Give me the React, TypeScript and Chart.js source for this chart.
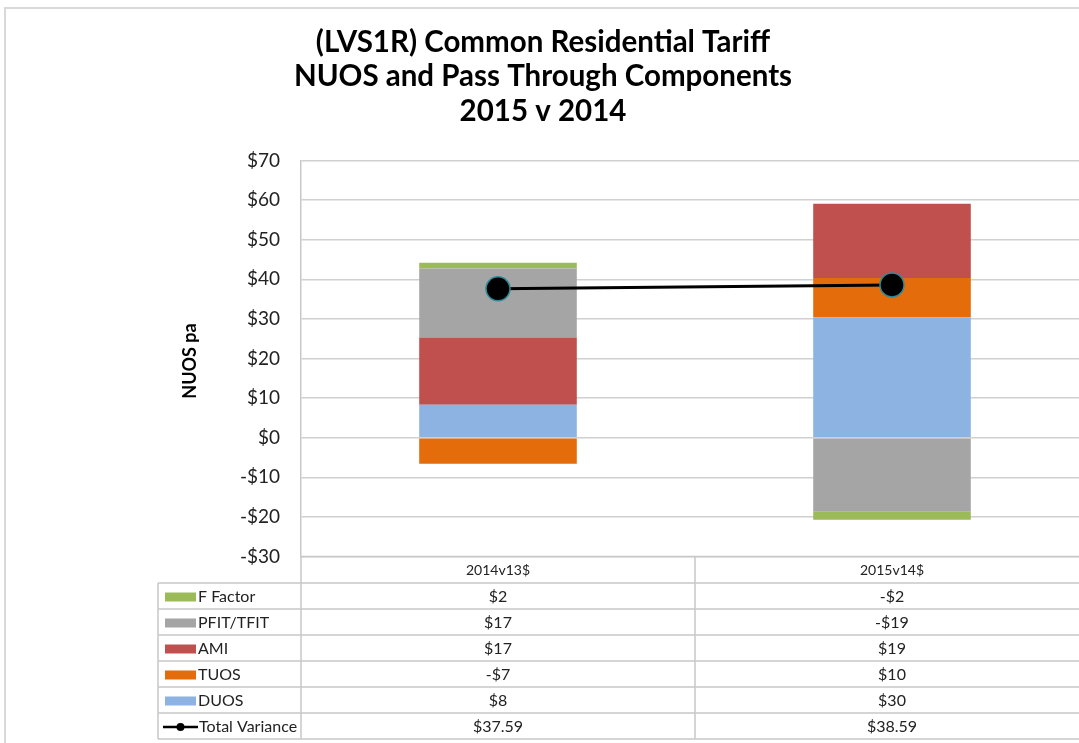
import React, { useEffect, useRef } from 'react';
import { Chart, registerables } from 'chart.js';

Chart.register(...registerables);

const categories = ['2014v13$', '2015v14$'];
const duos = [8.3, 30.4];
const tuos = [-6.6, 9.9];
const ami = [17.0, 18.8];
const pfit = [17.4, -18.7];
const fFactor = [1.5, -2.0];
const totalVariance = [37.59, 38.59];

const titleLines = ['(LVS1R) Common Residential Tariff', 'NUOS and Pass Through Components', '2015 v 2014'];
const yAxisTitle = 'NUOS pa';
const yMin = -30;
const yMax = 70;
const yStep = 10;

const FONT = 'Lato, "Open Sans", sans-serif';

const fmtCell = (v: number) => (Math.round(v) < 0 ? '-$' : '$') + Math.abs(Math.round(v));
const fmtTotal = (v: number) => '$' + v.toFixed(2);

const overlayPlugin = {
  id: 'overlay',
  afterDraw(chart: any) {
    const ctx = chart.ctx;
    const x = chart.scales.x;
    const area = chart.chartArea;
    ctx.save();
    // frame
    ctx.strokeStyle = '#d9d9d9';
    ctx.lineWidth = 2;
    ctx.strokeRect(5, 8, 1200, 800);

    // title
    ctx.fillStyle = '#000';
    ctx.font = `bold 29.5px ${FONT}`;
    ctx.textAlign = 'center';
    ctx.textBaseline = 'middle';
    titleLines.forEach((t, i) => ctx.fillText(t, 543, 42 + i * 34.5));

    // y title
    ctx.save();
    ctx.translate(190, 361);
    ctx.rotate(-Math.PI / 2);
    ctx.font = `bold 18px ${FONT}`;
    ctx.fillText(yAxisTitle, 0, 0);
    ctx.restore();

    // data table
    const n = categories.length;
    const catW = (x.right - x.left) / n;
    const tableTop = area.bottom;
    const headerBottom = 583;
    const rowH = 26;
    const tableLeft = 158;
    const ds = chart.data.datasets;
    const barRows = ds.filter((d: any) => d.type !== 'line').slice().reverse();
    const lineRows = ds.filter((d: any) => d.type === 'line');
    const rows = [...barRows, ...lineRows];
    const tableBottom = headerBottom + rows.length * rowH;

    ctx.strokeStyle = '#c8c8c8';
    ctx.lineWidth = 1.5;
    ctx.beginPath();
    ctx.moveTo(area.left, tableTop);
    ctx.lineTo(area.right, tableTop);
    for (let r = 0; r <= rows.length; r++) {
      const y = headerBottom + r * rowH;
      ctx.moveTo(tableLeft, y);
      ctx.lineTo(area.right, y);
    }
    ctx.moveTo(tableLeft, headerBottom);
    ctx.lineTo(tableLeft, tableBottom);
    for (let i = 0; i <= n; i++) {
      const xx = x.left + i * catW;
      ctx.moveTo(xx, tableTop);
      ctx.lineTo(xx, tableBottom);
    }
    ctx.stroke();

    ctx.fillStyle = '#222';
    ctx.font = `14px ${FONT}`;
    ctx.textAlign = 'center';
    categories.forEach((c, i) => {
      ctx.fillText(c, x.left + (i + 0.5) * catW, (tableTop + headerBottom) / 2 + 1);
    });

    ctx.font = `16px ${FONT}`;
    rows.forEach((d: any, r: number) => {
      const cy = headerBottom + (r + 0.5) * rowH + 1;
      if (d.type === 'line') {
        ctx.strokeStyle = '#000';
        ctx.lineWidth = 2.5;
        ctx.beginPath();
        ctx.moveTo(163, cy);
        ctx.lineTo(198, cy);
        ctx.stroke();
        ctx.fillStyle = '#000';
        ctx.beginPath();
        ctx.arc(180.5, cy, 4, 0, Math.PI * 2);
        ctx.fill();
      } else {
        ctx.fillStyle = d.backgroundColor;
        ctx.fillRect(165, cy - 4.5, 31, 9);
      }
      ctx.fillStyle = '#222';
      ctx.textAlign = 'left';
      ctx.fillText(d.label, d.type === 'line' ? 199 : 198, cy);
      ctx.textAlign = 'center';
      d.data.forEach((v: number, i: number) => {
        const txt = d.type === 'line' ? fmtTotal(v) : fmtCell(v);
        ctx.fillText(txt, x.left + (i + 0.5) * catW, cy);
      });
    });
    ctx.restore();
  },
};

export default function App() {
  const ref = useRef<HTMLCanvasElement>(null);
  useEffect(() => {
    if (!ref.current) return;
    const chart = new Chart(ref.current, {
      type: 'bar',
      data: {
        labels: categories,
        datasets: [
          { type: 'bar', label: 'DUOS', data: duos, backgroundColor: '#8db3e2', order: 1 },
          { type: 'bar', label: 'TUOS', data: tuos, backgroundColor: '#e46c0a', order: 1 },
          { type: 'bar', label: 'AMI', data: ami, backgroundColor: '#c0504d', order: 1 },
          { type: 'bar', label: 'PFIT/TFIT', data: pfit, backgroundColor: '#a5a5a5', order: 1 },
          { type: 'bar', label: 'F Factor', data: fFactor, backgroundColor: '#9bbb59', order: 1 },
          {
            type: 'line',
            label: 'Total Variance',
            data: totalVariance,
            borderColor: '#000',
            borderWidth: 3,
            backgroundColor: '#000',
            pointRadius: 12,
            pointBackgroundColor: '#000',
            pointBorderColor: '#2e8b9a',
            pointBorderWidth: 1.5,
            order: 0,
          },
        ],
      } as any,
      options: {
        responsive: false,
        animation: false,
        devicePixelRatio: 1,
        layout: { autoPadding: false, padding: { top: 160.5, bottom: 743 - 556.5, left: 0, right: 0 } },
        datasets: { bar: { barPercentage: 0.4, categoryPercentage: 1.0 } },
        plugins: { legend: { display: false }, tooltip: { enabled: false }, title: { display: false } },
        scales: {
          x: { display: false, stacked: true },
          y: {
            stacked: true,
            min: yMin,
            max: yMax,
            afterFit: (s: any) => { s.width = 301; },
            border: { display: true, color: '#c8c8c8', width: 1.5 },
            grid: { color: '#d0d0d0', lineWidth: 1.5, drawTicks: false },
            ticks: {
              stepSize: yStep,
              padding: 21,
              color: '#222',
              font: { family: FONT, size: 19 },
              callback: (v: any) => (v < 0 ? '-$' + Math.abs(v) : '$' + v),
            },
          },
        },
      } as any,
      plugins: [overlayPlugin],
    });
    return () => chart.destroy();
  }, []);
  return (
    <div style={{ position: 'fixed', left: 0, top: 0, width: 1079, height: 743, overflow: 'hidden', background: '#fff' }}>
      <canvas ref={ref} width={1089} height={743} style={{ display: 'block', width: 1089, height: 743 }} />
    </div>
  );
}
